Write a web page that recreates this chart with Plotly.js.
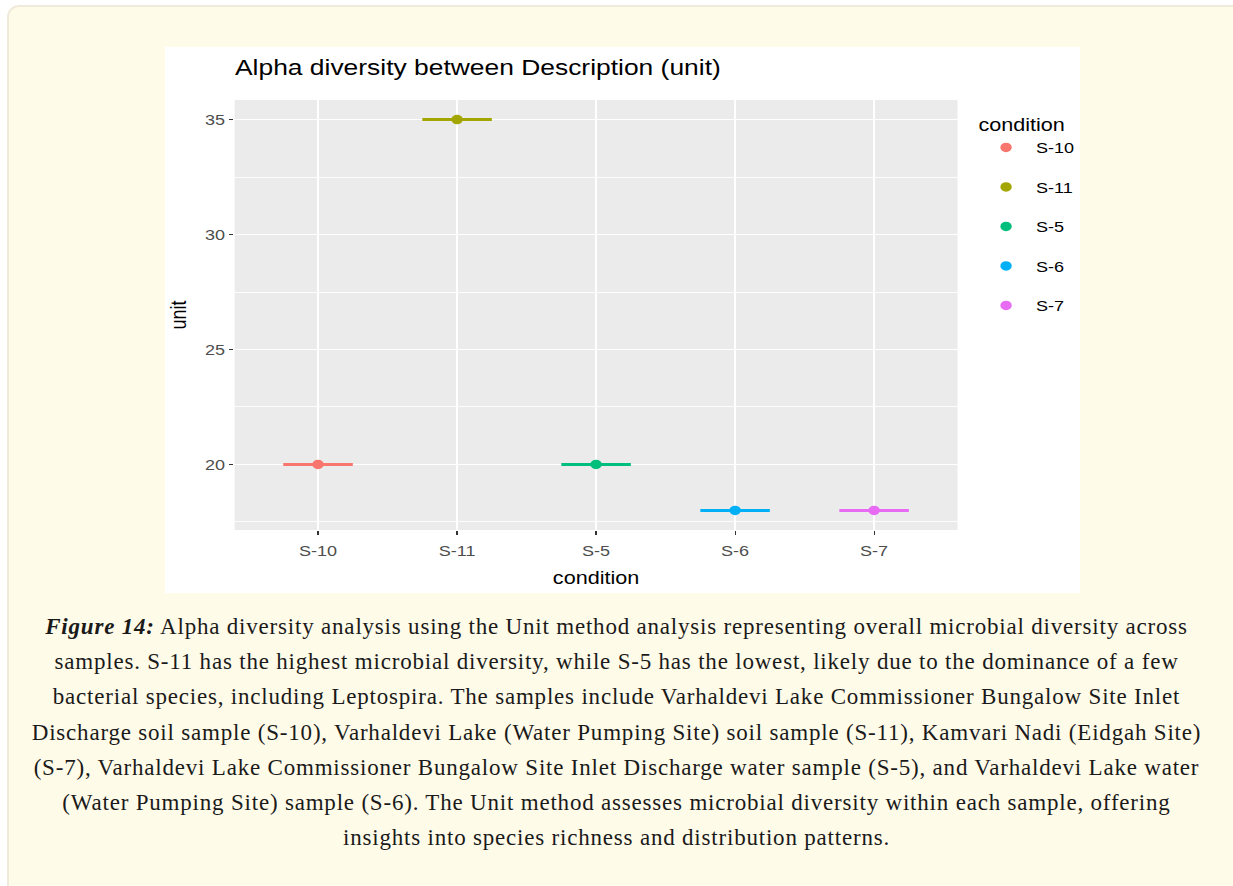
<!DOCTYPE html>
<html>
<head>
<meta charset="utf-8">
<script src="https://cdn.plot.ly/plotly-3.0.1.min.js"></script>
<style>
  html, body { margin: 0; padding: 0; background: #ffffff; width: 1233px; height: 886px; overflow: hidden; }
  #box { position: absolute; left: 7px; top: 5px; width: 1240px; height: 900px; background: #fffbe9; border: 2px solid #efeadb; border-radius: 12px; box-sizing: border-box; }
  #chart { position: absolute; left: 165px; top: 47px; width: 762px; height: 546px; background: #ffffff; transform: scaleX(1.2008); transform-origin: 0 0; }
  #caption { position: absolute; left: 0; top: 609px; width: 1233px; text-align: center; font-family: "Liberation Serif", serif; font-size: 23px; letter-spacing: 0.8px; color: #1a1a1a; }
  #caption div { height: 35.2px; line-height: 35.2px; white-space: nowrap; }
</style>
</head>
<body>
<div id="box"></div>
<div id="chart"></div>
<div id="caption"></div>
<script>
// ---- data ----
const conditions = ['S-10', 'S-11', 'S-5', 'S-6', 'S-7'];
const unitValues = [20, 35, 20, 18, 18];
const yTickValues = [20, 25, 30, 35];
const captionLines = [
  'Alpha diversity analysis using the Unit method analysis representing overall microbial diversity across',
  'samples. S-11 has the highest microbial diversity, while S-5 has the lowest, likely due to the dominance of a few',
  'bacterial species, including Leptospira. The samples include Varhaldevi Lake Commissioner Bungalow Site Inlet',
  'Discharge soil sample (S-10), Varhaldevi Lake (Water Pumping Site) soil sample (S-11), Kamvari Nadi (Eidgah Site)',
  '(S-7), Varhaldevi Lake Commissioner Bungalow Site Inlet Discharge water sample (S-5), and Varhaldevi Lake water',
  '(Water Pumping Site) sample (S-6). The Unit method assesses microbial diversity within each sample, offering',
  'insights into species richness and distribution patterns.'
];
const captionLabel = 'Figure 14:';

// ---- styles ----
const palette = ['#F8766D', '#A3A500', '#00BF7D', '#00B0F6', '#E76BF3'];
const FONT = 'Liberation Sans, Arial, sans-serif';
const HALF = 0.25;           // half-width of the horizontal segment (category units)
const W = 762, H = 546;      // chart is drawn at W and stretched horizontally to 915px like the reference raster
const ML = 58.3, MR = 102.4, MT = 53, MB = 63;

const positions = conditions.map((c, i) => i);
const traces = [];
conditions.forEach((c, i) => {
  const xi = positions[i];
  traces.push({
    type: 'scatter', mode: 'lines', name: c, legendgroup: c, showlegend: false,
    x: [xi - HALF, xi + HALF], y: [unitValues[i], unitValues[i]],
    line: { color: palette[i], width: 3 }, hoverinfo: 'skip'
  });
  traces.push({
    type: 'scatter', mode: 'markers', name: c, legendgroup: c,
    x: [xi], y: [unitValues[i]],
    marker: { color: palette[i], size: 9.5 },
    text: [c], hoverinfo: 'text+y'
  });
});

const layout = {
  width: W, height: H,
  paper_bgcolor: '#ffffff',
  plot_bgcolor: '#EBEBEB',
  margin: { l: ML, r: MR, t: MT, b: MB, autoexpand: false },
  font: { family: FONT, color: '#000000' },
  title: {
    text: 'Alpha diversity between Description (unit)',
    font: { size: 22, color: '#000000', family: FONT },
    x: ML / W, xref: 'container', xanchor: 'left',
    y: 1 - 20 / H, yref: 'container', yanchor: 'middle'
  },
  xaxis: {
    range: [-0.6, 4.6],
    tickvals: positions, ticktext: conditions,
    showgrid: true, gridcolor: '#ffffff', gridwidth: 1.3,
    zeroline: false, showline: false,
    ticks: 'outside', ticklen: 4, tickwidth: 1, tickcolor: '#333333',
    ticklabelstandoff: 3,
    tickfont: { size: 15, color: '#4d4d4d' },
    title: { text: 'condition', font: { size: 18, color: '#000000' }, standoff: 13 },
    automargin: false,
    fixedrange: true
  },
  yaxis: {
    range: [17.15, 35.85],
    tickvals: yTickValues,
    showgrid: true, gridcolor: '#ffffff', gridwidth: 1.6,
    minor: { dtick: 2.5, tick0: 17.5, showgrid: true, gridcolor: '#ffffff', gridwidth: 0.8, ticks: '' },
    zeroline: false, showline: false,
    ticks: 'outside', ticklen: 4, tickwidth: 1, tickcolor: '#333333',
    tickfont: { size: 15, color: '#4d4d4d' },
    title: { text: 'unit', font: { size: 18, color: '#000000' }, standoff: 10 },
    automargin: false,
    fixedrange: true
  },
  showlegend: true,
  legend: {
    title: { text: 'condition', font: { size: 18, color: '#000000' } },
    font: { size: 15, color: '#000000' },
    x: 1.0256, xanchor: 'left', y: 0.982, yanchor: 'top',
    bgcolor: 'rgba(0,0,0,0)',
    tracegroupgap: 17,
    itemwidth: 40
  }
};

Plotly.newPlot('chart', traces, layout, { displayModeBar: false, staticPlot: true });

// ---- caption ----
const cap = document.getElementById('caption');
captionLines.forEach((line, i) => {
  const d = document.createElement('div');
  if (i === 0) {
    const b = document.createElement('b');
    const em = document.createElement('i');
    em.textContent = captionLabel;
    b.appendChild(em);
    d.appendChild(b);
    d.appendChild(document.createTextNode(' ' + line));
  } else {
    d.textContent = line;
  }
  cap.appendChild(d);
});
</script>
</body>
</html>
